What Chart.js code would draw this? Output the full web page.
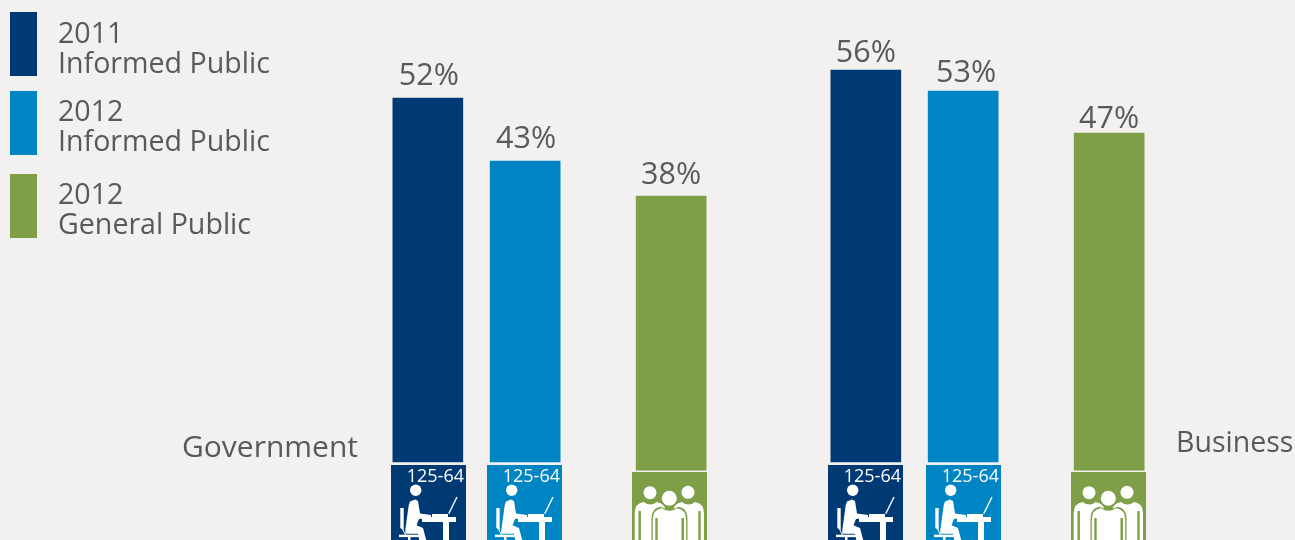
<!DOCTYPE html>
<html>
<head>
<meta charset="utf-8">
<title>Trust in government and business</title>
<script src="https://cdn.jsdelivr.net/npm/chart.js@4/dist/chart.umd.min.js"></script>
<style>
    html, body { margin: 0; padding: 0; background: #f2f1ef; overflow: hidden; }
    #wrap { width: 1295px; height: 540px; }
</style>
</head>
<body>
<div id="wrap"><canvas id="trust"></canvas></div>
<script>
// blank slots keep the gaps between the bars
const slots = ['Government 2011', '', 'Government 2012', '', '', 'Government general', '', '', '', 'Business 2011', '', 'Business 2012', '', '', 'Business general'];
const informed2011 = [52, null, null, null, null, null, null, null, null, 56, null, null, null, null, null];
const informed2012 = [null, null, 43, null, null, null, null, null, null, null, null, 53, null, null, null];
const general2012 = [null, null, null, null, null, 38, null, null, null, null, null, null, null, null, 47];
const legendLabels = [['2011', 'Informed Public'], ['2012', 'Informed Public'], ['2012', 'General Public']];
const ageLabel = '125-64';

const DARK = '#003a75', BLUE = '#0085c4', GREEN = '#7e9e47', TEXT = '#58595b';
const FONT = '"Open Sans"';

// label lift / sideways shift and tile shift per slot, the artwork isn't quite regular
const labelLift = { 0: 13, 2: 13, 5: 12, 9: 8, 11: 9, 14: 5 };
const labelShift = { 0: 1, 2: 1, 5: 0, 9: 0, 11: 3, 14: 0 };
const tileShift = { 0: 1, 2: -1, 5: -2, 9: 0, 11: 0, 14: -1 };

function circle(ctx, x, y, r) {
    ctx.beginPath();
    ctx.arc(x, y, r, 0, Math.PI * 2);
    ctx.fill();
}

function poly(ctx, pts) {
    ctx.beginPath();
    pts.forEach((p, i) => i ? ctx.lineTo(p[0], p[1]) : ctx.moveTo(p[0], p[1]));
    ctx.closePath();
    ctx.fill();
}

// seated figure at a desk, origin is the tile's top left
function deskIcon(ctx, x, y) {
    ctx.save();
    ctx.translate(x, y);
    ctx.fillStyle = '#fff';
    ctx.strokeStyle = '#fff';
    circle(ctx, 24.7, 25.3, 5.7);
    // chair
    poly(ctx, [[9.3, 43], [12.7, 43], [12.7, 65], [9.3, 63]]);
    ctx.lineWidth = 1;
    ctx.beginPath(); ctx.moveTo(10.5, 62); ctx.lineTo(14.5, 70); ctx.stroke();
    ctx.fillRect(8, 69.7, 22.5, 2.4);
    ctx.fillRect(17, 72, 2.5, 4);
    // body
    poly(ctx, [[19, 36.5], [24, 34.5], [27, 36], [29, 48.5], [40, 50], [40, 52.5], [28, 54], [25.5, 60.3], [32, 63], [35.5, 76], [28.5, 76], [27, 68.7], [14.3, 68.7], [14.3, 65], [17.7, 40.3]]);
    // desk and laptop
    ctx.fillRect(31, 52, 34, 5);
    ctx.fillRect(41, 49, 16, 3.2);
    ctx.fillRect(52, 56, 6, 22);
    ctx.lineWidth = 1.4;
    ctx.beginPath(); ctx.moveTo(57.7, 48.7); ctx.lineTo(66, 32); ctx.stroke();
    ctx.restore();
}

function bodyPath(ctx, cx, top, half) {
    ctx.beginPath();
    ctx.moveTo(cx - half, 72);
    ctx.lineTo(cx - half, top + 12);
    ctx.quadraticCurveTo(cx - half, top + 1, cx - half + 9, top);
    ctx.quadraticCurveTo(cx, top + 5, cx + half - 9, top);
    ctx.quadraticCurveTo(cx + half, top + 1, cx + half, top + 12);
    ctx.lineTo(cx + half, 72);
    ctx.closePath();
    ctx.fill();
}

// three standing figures on the general public tile
function peopleIcon(ctx, x, y, colour) {
    ctx.save();
    ctx.translate(x, y);
    ctx.fillStyle = '#fff';
    circle(ctx, 18, 20.7, 6.5);
    circle(ctx, 56, 20.3, 6.5);
    bodyPath(ctx, 18.2, 30, 15.5);
    bodyPath(ctx, 56.5, 30, 15.5);
    ctx.fillStyle = colour;
    ctx.fillRect(6.5, 39, 2.4, 33);
    ctx.fillRect(66.3, 39, 2.4, 33);
    bodyPath(ctx, 37.5, 34.8, 18);
    ctx.fillStyle = '#fff';
    bodyPath(ctx, 37.5, 36.2, 16.7);
    circle(ctx, 37.3, 26.3, 7.5);
    ctx.fillStyle = colour;
    ctx.fillRect(23.3, 46, 2.4, 26);
    ctx.fillRect(49.5, 46, 2.4, 26);
    ctx.restore();
}

const annotations = {
    id: 'annotations',
    afterDatasetsDraw(chart) {
        const ctx = chart.ctx;
        ctx.save();

        // legend swatches and text
        const legendTops = [12, 91, 174];
        const firstLine = [31, 30, 30];
        ctx.textAlign = 'left';
        ctx.textBaseline = 'alphabetic';
        ctx.font = '28.6px ' + FONT;
        chart.data.datasets.forEach((ds, i) => {
            ctx.fillStyle = ds.backgroundColor;
            ctx.fillRect(10, legendTops[i], 27, 64);
            ctx.fillStyle = TEXT;
            ctx.fillText(legendLabels[i][0], 58, legendTops[i] + firstLine[i]);
            ctx.fillText(legendLabels[i][1], 58, legendTops[i] + firstLine[i] + 30);
        });

        // value labels, tiles and icons hang off the bars themselves
        chart.data.datasets.forEach((ds, i) => {
            const meta = chart.getDatasetMeta(i);
            ds.data.forEach((v, j) => {
                if (v == null) return;
                const bar = meta.data[j];
                ctx.fillStyle = TEXT;
                ctx.textAlign = 'center';
                ctx.font = '30.5px ' + FONT;
                ctx.fillText(v + '%', bar.x + labelShift[j], bar.y - labelLift[j]);

                const left = Math.round(bar.x - 37.5) + tileShift[j];
                ctx.fillStyle = ds.backgroundColor;
                if (i === 2) {
                    ctx.fillRect(left, 472, 75, 68);
                    peopleIcon(ctx, left, 472, ds.backgroundColor);
                } else {
                    ctx.fillRect(left, 465, 75, 75);
                    deskIcon(ctx, left, 465);
                    ctx.fillStyle = '#fff';
                    ctx.textAlign = 'right';
                    ctx.font = '18px ' + FONT;
                    ctx.fillText(ageLabel, left + 73, 482);
                }
            });
        });

        // group captions either side of the bars
        ctx.fillStyle = TEXT;
        ctx.textAlign = 'left';
        ctx.font = '30px ' + FONT;
        ctx.fillText('Government', 182, 457);
        ctx.font = '28.5px ' + FONT;
        ctx.fillText('Business', 1176, 452);
        ctx.restore();
    }
};

new Chart(document.getElementById('trust'), {
    type: 'bar',
    data: {
        labels: slots,
        datasets: [
            { label: '2011 Informed Public', data: informed2011, backgroundColor: DARK },
            { label: '2012 Informed Public', data: informed2012, backgroundColor: BLUE },
            { label: '2012 General Public', data: general2012, backgroundColor: GREEN, base: -1.15 }
        ]
    },
    options: {
        responsive: true,
        maintainAspectRatio: false,
        animation: false,
        layout: { padding: { left: 403.5, right: 161.5, top: 42, bottom: 8 } },
        datasets: { bar: { grouped: false, barThickness: 70, clip: false, borderWidth: 0 } },
        plugins: { legend: { display: false }, tooltip: { enabled: false } },
        scales: {
            x: { display: false },
            y: { display: false, min: -10, max: 60 }
        }
    },
    plugins: [annotations]
});
</script>
</body>
</html>
